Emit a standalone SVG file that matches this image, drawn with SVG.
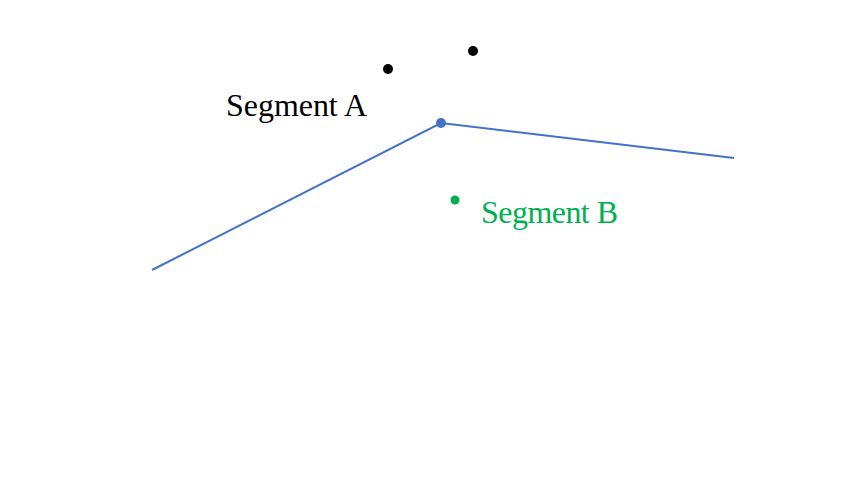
<svg xmlns="http://www.w3.org/2000/svg" width="862" height="486" viewBox="0 0 862 486">
<style>
.lbl{font-family:"Liberation Serif","Times New Roman",serif;font-size:32px}
.conn{fill:none;stroke:#4472C4;stroke-width:2}
</style>
<rect width="862" height="486" fill="#fff"/>
<g id="connectors">
<polyline class="conn" points="152,270 441,123 734,158"/>
</g>
<g id="vertex"><circle cx="441" cy="123" r="5" fill="#4472C4"/></g>
<g id="point1"><circle cx="388" cy="69" r="5" fill="#000"/></g>
<g id="point2"><circle cx="473" cy="51" r="5" fill="#000"/></g>
<g id="point3"><circle cx="455" cy="200" r="4.5" fill="#00B050"/></g>
<g id="segmentA"><text class="lbl" x="226" y="116" fill="#000" textLength="141">Segment A</text></g>
<g id="segmentB"><text class="lbl" x="481" y="223" fill="#00B050" textLength="137">Segment B</text></g>
</svg>
